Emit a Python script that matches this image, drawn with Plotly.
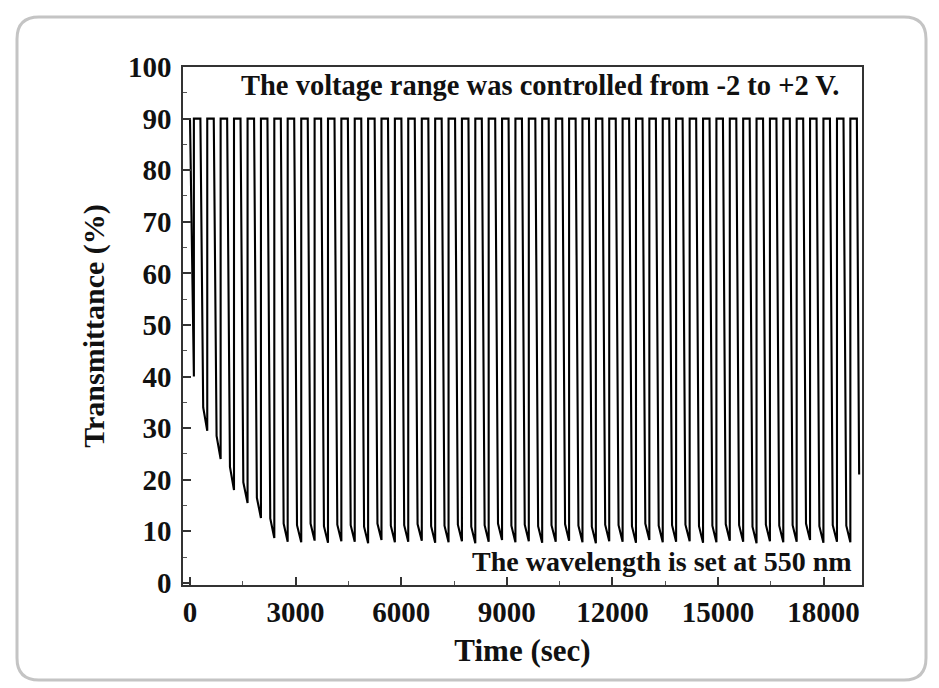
import plotly.graph_objects as go

# ---------------- data ----------------
high_level = 90.0                      # bleached-state transmittance (%)
start_time = 0
start_level = 90.0
start_knee = 46.0
start_min = 40.0
steep_fall_s = 80                       # duration of the steep part of each fall (s)

rise_times = [110, 490, 870, 1250, 1635, 2015, 2395, 2775, 3160, 3540,
              3920, 4300, 4680, 5060, 5440, 5820, 6200, 6585, 6965, 7345,
              7725, 8105, 8485, 8865, 9245, 9625, 10005, 10390, 10770, 11150,
              11530, 11910, 12290, 12670, 13050, 13430, 13810, 14195, 14575, 14955,
              15335, 15715, 16095, 16475, 16855, 17235, 17615, 17995, 18380, 18760]

fall_times = [295, 675, 1055, 1435, 1820, 2200, 2580, 2960, 3345, 3725,
              4105, 4485, 4865, 5245, 5625, 6005, 6385, 6770, 7150, 7530,
              7910, 8290, 8670, 9050, 9430, 9810, 10190, 10575, 10955, 11335,
              11715, 12095, 12475, 12855, 13235, 13615, 13995, 14380, 14760, 15140,
              15520, 15900, 16280, 16660, 17040, 17420, 17800, 18180, 18565, 18945]

knee_levels = [34.0, 28.5, 22.5, 19.5, 16.5, 12.5, 11.5, 11.2, 11.5, 11.0,
               11.3, 11.2, 10.9, 11.5, 11.1, 11.2, 11.4, 11.0, 11.1, 11.3,
               10.9, 11.2, 11.5, 11.1, 11.3, 11.0, 11.2, 11.4, 11.1, 10.9,
               11.3, 11.2, 11.0, 11.5, 11.1, 11.2, 11.3, 11.0, 11.1, 11.4,
               11.2, 10.9, 11.3, 11.1, 11.2, 11.5, 11.0, 11.2, 11.1]

min_levels = [29.5, 24.0, 18.0, 15.5, 12.6, 8.7, 8.0, 7.9, 8.2, 7.8,
              8.1, 8.0, 7.7, 8.3, 7.9, 8.0, 8.2, 7.8, 7.9, 8.1,
              7.7, 8.0, 8.3, 7.9, 8.1, 7.8, 8.0, 8.2, 7.9, 7.7,
              8.1, 8.0, 7.8, 8.3, 7.9, 8.0, 8.1, 7.8, 7.9, 8.2,
              8.0, 7.7, 8.1, 7.9, 8.0, 8.3, 7.8, 8.0, 7.9]

end_time = 19010
end_level = 21.0

x_tick_vals = [0, 3000, 6000, 9000, 12000, 15000, 18000]
x_tick_text = ["0", "3000", "6000", "9000", "12000", "15000", "18000"]
y_tick_vals = [0, 10, 20, 30, 40, 50, 60, 70, 80, 90, 100]
y_tick_text = ["0", "10", "20", "30", "40", "50", "60", "70", "80", "90", "100"]

top_note = "The voltage range was controlled from -2 to +2 V."
bottom_note = "The wavelength is set at 550 nm"

# ---------------- build trace vertices from the per-cycle values ----------------
xs = [start_time, start_time + steep_fall_s, rise_times[0]]
ys = [start_level, start_knee, start_min]
prev = start_min
n = len(rise_times)
for k in range(n):
    xs += [rise_times[k], rise_times[k], fall_times[k]]
    ys += [prev, high_level, high_level]
    if k < n - 1:
        xs += [fall_times[k] + steep_fall_s, rise_times[k + 1]]
        ys += [knee_levels[k], min_levels[k]]
        prev = min_levels[k]
    else:
        xs += [end_time]
        ys += [end_level]

SERIF = "Liberation Serif"

fig = go.Figure()
fig.add_trace(go.Scatter(x=xs, y=ys, mode="lines",
                         line=dict(color="#000000", width=2.1),
                         showlegend=False, hoverinfo="skip"))

L, R, T, B = 183, 77, 67, 103
W, H = 939, 688
pw, ph = W - L - R, H - T - B

axis_common = dict(
    showgrid=False, zeroline=False, showline=True, mirror=True,
    linecolor="#333333", linewidth=1.5,
    ticks="inside", ticklen=8, tickwidth=1.5, tickcolor="#333333",
    tickfont=dict(family=SERIF, size=29, color="#111111", weight="bold"),
)

fig.update_xaxes(
    range=[-199, 19091], tickmode="array", tickvals=x_tick_vals, ticktext=x_tick_text,
    minor=dict(ticks="inside", ticklen=4, tickwidth=1.2, tickcolor="#555555", dtick=1500, tick0=0),
    title=dict(text="Time (sec)", font=dict(family=SERIF, size=31, color="#111111", weight="bold"),
               standoff=13),
    ticklabelstandoff=0,
    **axis_common)
fig.update_yaxes(
    range=[-0.4, 100], tickmode="array", tickvals=y_tick_vals, ticktext=y_tick_text,
    minor=dict(ticks="inside", ticklen=4, tickwidth=1.2, tickcolor="#555555", dtick=5, tick0=0),
    title=dict(text="Transmittance (%)", font=dict(family=SERIF, size=30, color="#111111", weight="bold"),
               standoff=14),
    ticklabelstandoff=4,
    **axis_common)

fig.add_annotation(text=top_note, xref="paper", yref="paper",
                   x=(540 - L) / pw, y=(585 - 85) / ph, xanchor="center", yanchor="middle",
                   showarrow=False,
                   font=dict(family=SERIF, size=28.5, color="#111111", weight="bold"))
fig.add_annotation(text=bottom_note, xref="paper", yref="paper",
                   x=(854 - L) / pw, y=(585 - 561) / ph, xanchor="right", yanchor="middle",
                   showarrow=False,
                   font=dict(family=SERIF, size=28, color="#111111", weight="bold"))

# rounded outer frame (decoration)
def px_x(p):
    return (p - L) / pw

def px_y(p):
    return (H - B - p) / ph

x0, x1, y0, y1, r = 17, 926, 17, 680, 22
path = (f"M {px_x(x0 + r)},{px_y(y0)} L {px_x(x1 - r)},{px_y(y0)} "
        f"Q {px_x(x1)},{px_y(y0)} {px_x(x1)},{px_y(y0 + r)} "
        f"L {px_x(x1)},{px_y(y1 - r)} Q {px_x(x1)},{px_y(y1)} {px_x(x1 - r)},{px_y(y1)} "
        f"L {px_x(x0 + r)},{px_y(y1)} Q {px_x(x0)},{px_y(y1)} {px_x(x0)},{px_y(y1 - r)} "
        f"L {px_x(x0)},{px_y(y0 + r)} Q {px_x(x0)},{px_y(y0)} {px_x(x0 + r)},{px_y(y0)} Z")
fig.add_shape(type="path", path=path, xref="paper", yref="paper",
              line=dict(color="#c4c4c4", width=3), fillcolor="rgba(0,0,0,0)", layer="below")

fig.update_layout(
    width=W, height=H,
    margin=dict(l=L, r=R, t=T, b=B, autoexpand=False),
    paper_bgcolor="#ffffff", plot_bgcolor="#ffffff",
    font=dict(family=SERIF, color="#111111"),
)

fig.write_html("out.html", config={"displayModeBar": False})
